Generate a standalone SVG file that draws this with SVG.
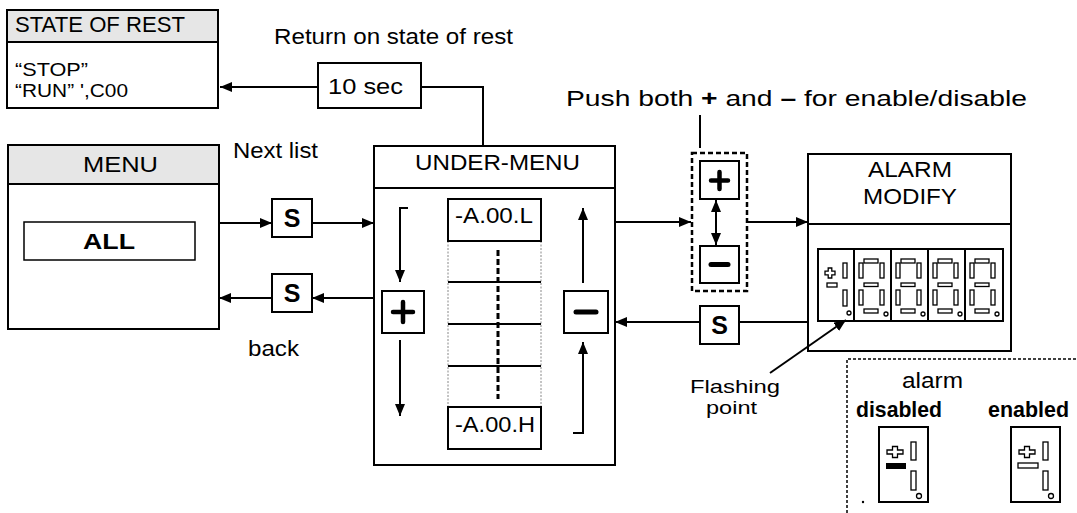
<svg xmlns="http://www.w3.org/2000/svg" width="1077" height="513" viewBox="0 0 1077 513">
<defs>
<style>
.box{fill:#fff;stroke:#000;stroke-width:2}
.hdr{fill:#e6e6e6;stroke:#000;stroke-width:2}
.t{font-family:"Liberation Sans",Arial,sans-serif;font-size:22px;fill:#000}
.b{font-weight:bold}
.s{font-size:25px}
.sm{font-size:18.5px}
.ln{fill:none;stroke:#000;stroke-width:2}
.seg{fill:#fff;stroke:#000;stroke-width:1.3}
.sym{fill:none;stroke:#000;stroke-linecap:round}
</style>
<marker id="ah" viewBox="0 0 12 10" refX="12" refY="5" markerWidth="12" markerHeight="10" markerUnits="userSpaceOnUse" orient="auto-start-reverse"><path d="M0,0 L12,5 L0,10 z" fill="#000"/></marker>
<g id="digit">
<rect class="seg" x="9" y="10" width="14" height="4"/>
<rect class="seg" x="4" y="14" width="4" height="15"/>
<rect class="seg" x="25" y="14" width="4" height="15"/>
<rect class="seg" x="9" y="34" width="14" height="3.5"/>
<rect class="seg" x="4" y="41" width="4" height="15"/>
<rect class="seg" x="25" y="41" width="4" height="15"/>
<rect class="seg" x="9" y="60" width="14" height="4"/>
<circle class="seg" cx="31" cy="65" r="2"/>
</g>
</defs>
<rect width="1077" height="513" fill="#fff"/>

<g id="state-of-rest">
<rect class="box" x="7" y="10" width="211" height="98"/>
<rect class="hdr" x="7" y="10" width="211" height="32"/>
<text class="t" x="15" y="32" textLength="170" lengthAdjust="spacingAndGlyphs">STATE OF REST</text>
<text class="t sm" x="15" y="76" textLength="73" lengthAdjust="spacingAndGlyphs">“STOP”</text>
<text class="t sm" x="15" y="97" textLength="113" lengthAdjust="spacingAndGlyphs">“RUN” ',C00</text>
</g>

<g id="return-label">
<text class="t" x="274" y="44" textLength="239" lengthAdjust="spacingAndGlyphs">Return on state of rest</text>
</g>

<g id="timer-10sec">
<rect class="box" x="318" y="63" width="103" height="45"/>
<text class="t" x="328" y="94" textLength="75" lengthAdjust="spacingAndGlyphs">10 sec</text>
</g>

<g id="menu">
<rect class="box" x="8" y="145" width="211" height="184"/>
<rect class="hdr" x="8" y="145" width="211" height="39"/>
<text class="t" x="83" y="172" textLength="75" lengthAdjust="spacingAndGlyphs">MENU</text>
<rect x="24" y="222" width="171" height="38" fill="#fff" stroke="#000" stroke-width="1.5"/>
<text class="t b" x="83" y="249" textLength="52" lengthAdjust="spacingAndGlyphs">ALL</text>
</g>

<g id="labels-left">
<text class="t" x="233" y="158" textLength="85" lengthAdjust="spacingAndGlyphs">Next list</text>
<text class="t" x="248" y="356" textLength="51" lengthAdjust="spacingAndGlyphs">back</text>
</g>

<g id="s-next">
<rect class="box" x="272" y="199" width="40" height="38"/>
<text class="t b s" x="292" y="227" text-anchor="middle">S</text>
</g>
<g id="s-back">
<rect class="box" x="272" y="274" width="40" height="38"/>
<text class="t b s" x="292" y="302" text-anchor="middle">S</text>
</g>

<g id="under-menu">
<rect class="box" x="374" y="146" width="241" height="319"/>
<line class="ln" x1="374" y1="188" x2="615" y2="188"/>
<text class="t" x="415" y="170" textLength="165" lengthAdjust="spacingAndGlyphs">UNDER-MENU</text>
<line x1="448" y1="241" x2="448" y2="407" stroke="#888" stroke-width="1" stroke-dasharray="2 1.5"/>
<line x1="541" y1="241" x2="541" y2="407" stroke="#888" stroke-width="1" stroke-dasharray="2 1.5"/>
<rect class="box" x="448" y="199" width="93" height="42"/>
<rect class="box" x="448" y="407" width="93" height="42"/>
<line class="ln" x1="448" y1="282" x2="541" y2="282"/>
<line class="ln" x1="448" y1="324" x2="541" y2="324"/>
<line class="ln" x1="448" y1="366" x2="541" y2="366"/>
<line x1="498" y1="250" x2="498" y2="399" stroke="#000" stroke-width="3" stroke-dasharray="6 3"/>
<text class="t" x="455" y="223" textLength="78" lengthAdjust="spacingAndGlyphs">-A.00.L</text>
<text class="t" x="455" y="432" textLength="80" lengthAdjust="spacingAndGlyphs">-A.00.H</text>
<rect class="box" x="382" y="291" width="42" height="42"/>
<path class="sym" d="M403,302 V322 M393,312 H413" stroke-width="4.5"/>
<rect class="box" x="564" y="291" width="44" height="42"/>
<path class="sym" d="M576,312 H596" stroke-width="5"/>
<polyline class="ln" points="408,208 400,208 400,282" marker-end="url(#ah)"/>
<line class="ln" x1="400" y1="340" x2="400" y2="416" marker-end="url(#ah)"/>
<line class="ln" x1="583" y1="283" x2="583" y2="208" marker-end="url(#ah)"/>
<polyline class="ln" points="573,433 583,433 583,342" marker-end="url(#ah)"/>
</g>

<g id="push-both">
<text class="t" x="566" y="106" textLength="461" lengthAdjust="spacingAndGlyphs">Push both <tspan class="b">+</tspan> and <tspan class="b">–</tspan> for enable/disable</text>
<rect x="692" y="153" width="55" height="138" fill="#fff" stroke="#000" stroke-width="2.5" stroke-dasharray="5 3"/>
<rect class="box" x="700" y="161" width="39" height="38"/>
<path class="sym" d="M719.5,172 V189 M711,180.5 H728" stroke-width="4.5"/>
<rect class="box" x="700" y="246" width="39" height="37"/>
<path class="sym" d="M711,264.5 H728" stroke-width="5"/>
</g>

<g id="s-return">
<rect class="box" x="700" y="306" width="39" height="38"/>
<text class="t b s" x="719.5" y="334" text-anchor="middle">S</text>
</g>

<g id="alarm-modify">
<rect class="box" x="808" y="154" width="203" height="197"/>
<line class="ln" x1="808" y1="224" x2="1011" y2="224"/>
<text class="t" x="868" y="177" textLength="84" lengthAdjust="spacingAndGlyphs">ALARM</text>
<text class="t" x="863" y="204" textLength="94" lengthAdjust="spacingAndGlyphs">MODIFY</text>
<rect class="box" x="818" y="249" width="185" height="72"/>
<line class="ln" x1="854" y1="249" x2="854" y2="321"/>
<line class="ln" x1="891" y1="249" x2="891" y2="321"/>
<line class="ln" x1="928" y1="249" x2="928" y2="321"/>
<line class="ln" x1="965" y1="249" x2="965" y2="321"/>
<polygon class="seg" points="828.2,268 831.8,268 831.8,271.2 835,271.2 835,274.8 831.8,274.8 831.8,278 828.2,278 828.2,274.8 825,274.8 825,271.2 828.2,271.2"/>
<rect class="seg" x="827" y="283" width="10" height="4"/>
<rect class="seg" x="843" y="263" width="4" height="15"/>
<rect class="seg" x="843" y="290" width="4" height="16"/>
<circle class="seg" cx="849" cy="313" r="2"/>
<use href="#digit" x="855" y="249"/>
<use href="#digit" x="892" y="249"/>
<use href="#digit" x="929" y="249"/>
<use href="#digit" x="966" y="249"/>
</g>

<g id="flashing-point">
<text class="t sm" x="690" y="393" textLength="90" lengthAdjust="spacingAndGlyphs">Flashing</text>
<text class="t sm" x="706" y="414" textLength="51" lengthAdjust="spacingAndGlyphs">point</text>
</g>

<g id="alarm-legend">
<path d="M847,513 V359 H1077" fill="none" stroke="#000" stroke-width="1.5" stroke-dasharray="3 2"/>
<text class="t" x="902" y="388" textLength="61" lengthAdjust="spacingAndGlyphs">alarm</text>
<text class="t b" x="856" y="417" textLength="86" lengthAdjust="spacingAndGlyphs">disabled</text>
<text class="t b" x="988" y="417" textLength="81" lengthAdjust="spacingAndGlyphs">enabled</text>
<rect class="box" x="879" y="427" width="49" height="75"/>
<polygon class="seg" points="892.5,446.5 897.5,446.5 897.5,450 903,450 903,454 897.5,454 897.5,457.5 892.5,457.5 892.5,454 887,454 887,450 892.5,450"/>
<rect x="886" y="463" width="20" height="6" fill="#000"/>
<rect class="seg" x="911" y="442" width="5" height="18"/>
<rect class="seg" x="911" y="471" width="5" height="19"/>
<circle class="seg" cx="919" cy="496" r="2.5"/>
<circle cx="863" cy="502" r="1.2" fill="#000"/>
<rect class="box" x="1011" y="427" width="49" height="75"/>
<polygon class="seg" points="1024.5,446.5 1029.5,446.5 1029.5,450 1035,450 1035,454 1029.5,454 1029.5,457.5 1024.5,457.5 1024.5,454 1019,454 1019,450 1024.5,450"/>
<rect class="seg" x="1018" y="463" width="20" height="5"/>
<rect class="seg" x="1043" y="442" width="5" height="18"/>
<rect class="seg" x="1043" y="471" width="5" height="19"/>
<circle class="seg" cx="1051" cy="496" r="2.5"/>
</g>

<g id="connectors">
<line class="ln" x1="318" y1="87" x2="220" y2="87" marker-end="url(#ah)"/>
<polyline class="ln" points="483,146 483,87 421,87"/>
<line class="ln" x1="219" y1="223" x2="272" y2="223" marker-end="url(#ah)"/>
<line class="ln" x1="312" y1="223" x2="374" y2="223" marker-end="url(#ah)"/>
<line class="ln" x1="374" y1="298" x2="312" y2="298" marker-end="url(#ah)"/>
<line class="ln" x1="272" y1="298" x2="219" y2="298" marker-end="url(#ah)"/>
<line class="ln" x1="615" y1="222" x2="691" y2="222" marker-end="url(#ah)"/>
<line class="ln" x1="747" y1="222" x2="808" y2="222" marker-end="url(#ah)"/>
<line class="ln" x1="808" y1="322" x2="739" y2="322"/>
<line class="ln" x1="700" y1="322" x2="615" y2="322" marker-end="url(#ah)"/>
<line class="ln" x1="700" y1="115" x2="700" y2="148"/>
<line class="ln" x1="716" y1="200" x2="716" y2="245" marker-start="url(#ah)" marker-end="url(#ah)"/>
<line class="ln" x1="770" y1="373" x2="846" y2="320" marker-end="url(#ah)"/>
</g>
</svg>
